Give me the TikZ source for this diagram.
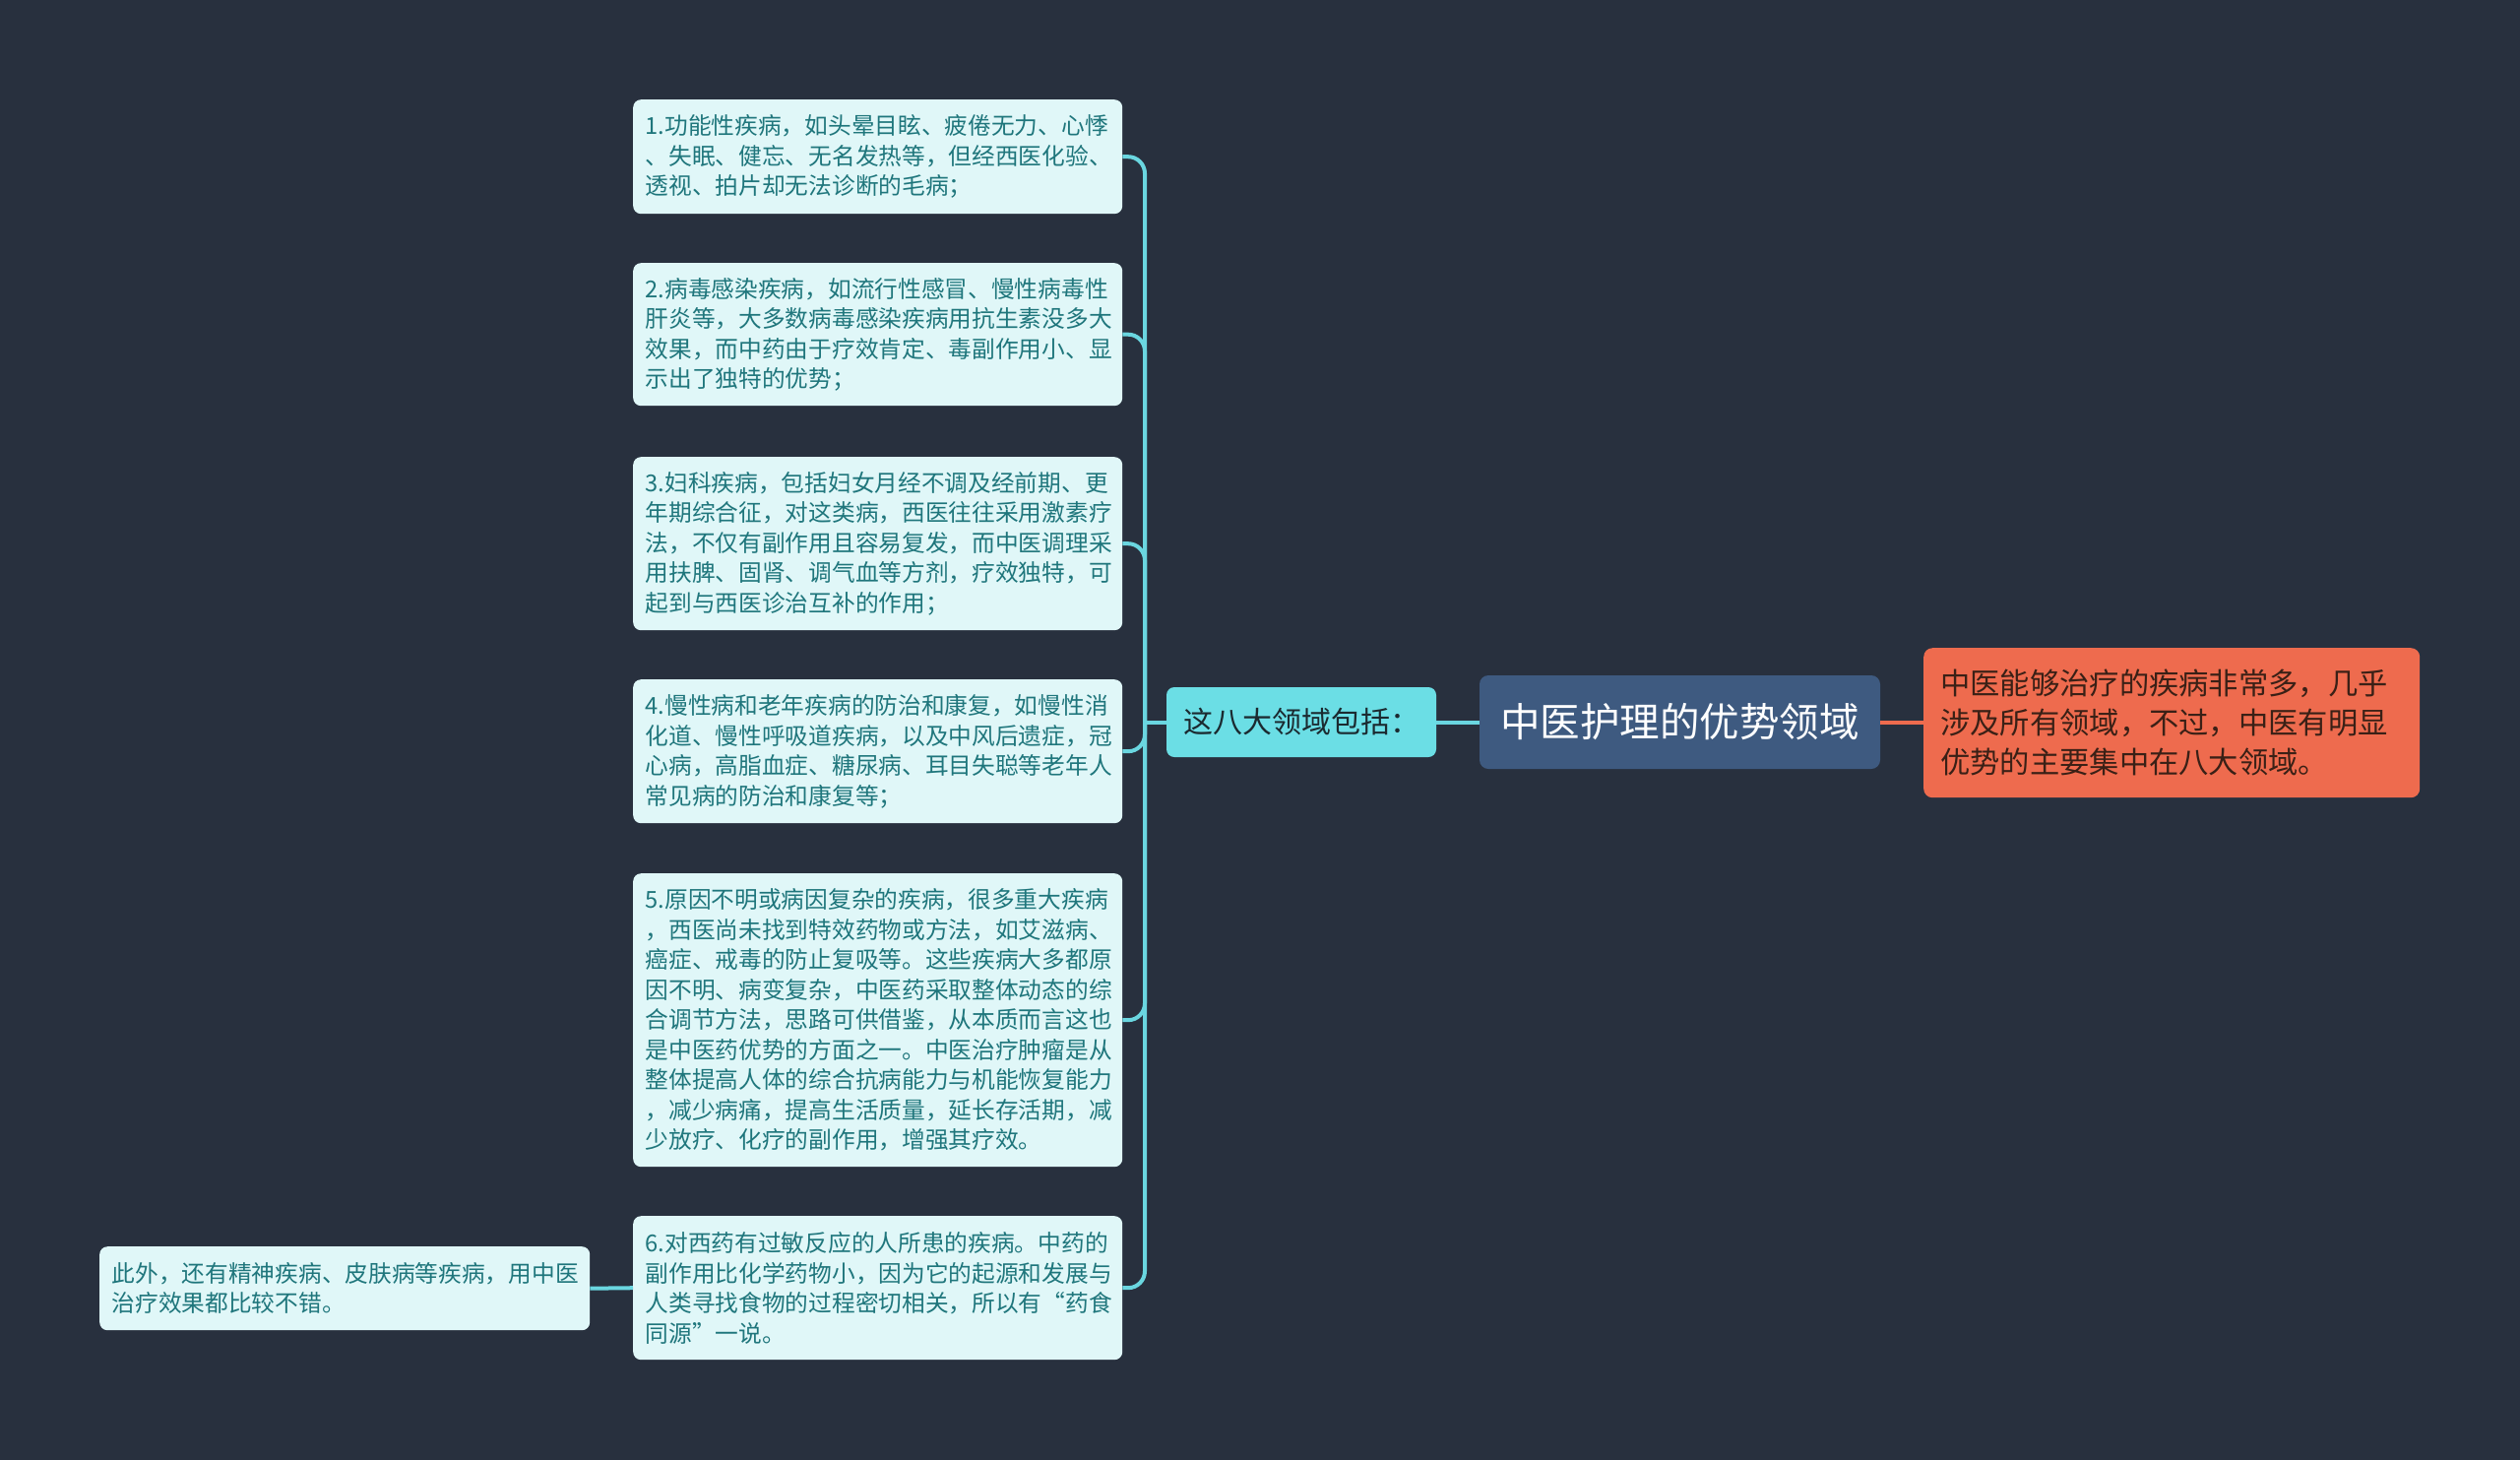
\documentclass[tikz,border=0pt]{standalone}
\usepackage{fontspec}
\newfontfamily\cjk{Noto Sans CJK SC}
\definecolor{bg}{HTML}{28303E}
\definecolor{boxfill}{HTML}{E0F7F8}
\definecolor{boxtext}{HTML}{1F767C}
\definecolor{cyanline}{HTML}{6AD6E0}
\definecolor{lblfill}{HTML}{6BDEE5}
\definecolor{lbltext}{HTML}{1B2A30}
\definecolor{centfill}{HTML}{3E5A80}
\definecolor{orfill}{HTML}{EE6B4E}
\definecolor{ortext}{HTML}{3A2016}
\begin{document}
\begin{tikzpicture}[x=1pt,y=-1pt,
  tbox/.style={fill=boxfill, rounded corners=8pt, text=boxtext,
    font=\cjk\fontsize{23.7}{30.5}\selectfont, align=left,
    text width=472pt, inner xsep=12.5pt, inner ysep=0pt, anchor=north west},
  lbl/.style={fill=lblfill, rounded corners=8pt, text=lbltext,
    font=\cjk\fontsize{30}{36}\selectfont, minimum width=274pt, minimum height=71pt, inner sep=0pt},
  cent/.style={fill=centfill, rounded corners=9pt, text=white,
    font=\cjk\fontsize{40.5}{48}\selectfont, minimum width=407pt, minimum height=95pt, inner sep=0pt},
  obox/.style={fill=orfill, rounded corners=9pt, text=ortext,
    font=\cjk\fontsize{30.3}{40}\selectfont, align=left, text width=470pt,
    inner xsep=17pt, inner ysep=0pt, minimum height=152pt, anchor=north west},
  cline/.style={draw=cyanline, line width=4pt},
  oline/.style={draw=orfill, line width=4pt}
]
\fill[bg] (0,0) rectangle (2560,1483);
\useasboundingbox (0,0) rectangle (2560,1483);

\node[cent] (c) at (1706.5,733.5) {中医护理的优势领域};
\node[obox] (r) at (1954,658) {中医能够治疗的疾病非常多，几乎\\涉及所有领域，不过，中医有明显\\优势的主要集中在八大领域。};
\node[lbl] (l) at (1322,733.5) {这八大领域包括：};

\node[tbox, minimum height=116pt] (b1) at (643,101) {1.功能性疾病，如头晕目眩、疲倦无力、心悸\\、失眠、健忘、无名发热等，但经西医化验、\\透视、拍片却无法诊断的毛病；};
\node[tbox, minimum height=145pt] (b2) at (643,267) {2.病毒感染疾病，如流行性感冒、慢性病毒性\\肝炎等，大多数病毒感染疾病用抗生素没多大\\效果，而中药由于疗效肯定、毒副作用小、显\\示出了独特的优势；};
\node[tbox, minimum height=176pt] (b3) at (643,464) {3.妇科疾病，包括妇女月经不调及经前期、更\\年期综合征，对这类病，西医往往采用激素疗\\法，不仅有副作用且容易复发，而中医调理采\\用扶脾、固肾、调气血等方剂，疗效独特，可\\起到与西医诊治互补的作用；};
\node[tbox, minimum height=146pt] (b4) at (643,690) {4.慢性病和老年疾病的防治和康复，如慢性消\\化道、慢性呼吸道疾病，以及中风后遗症，冠\\心病，高脂血症、糖尿病、耳目失聪等老年人\\常见病的防治和康复等；};
\node[tbox, minimum height=298pt] (b5) at (643,887) {5.原因不明或病因复杂的疾病，很多重大疾病\\，西医尚未找到特效药物或方法，如艾滋病、\\癌症、戒毒的防止复吸等。这些疾病大多都原\\因不明、病变复杂，中医药采取整体动态的综\\合调节方法，思路可供借鉴，从本质而言这也\\是中医药优势的方面之一。中医治疗肿瘤是从\\整体提高人体的综合抗病能力与机能恢复能力\\，减少病痛，提高生活质量，延长存活期，减\\少放疗、化疗的副作用，增强其疗效。};
\node[tbox, minimum height=146pt] (b6) at (643,1235) {6.对西药有过敏反应的人所患的疾病。中药的\\副作用比化学药物小，因为它的起源和发展与\\人类寻找食物的过程密切相关，所以有“药食\\同源”一说。};
\node[tbox, text width=473pt, minimum height=85pt] (b7) at (101,1266) {此外，还有精神疾病、皮肤病等疾病，用中医\\治疗效果都比较不错。};

\coordinate (j) at (1163,733.5);
\draw[oline] (c.east) -- (r.west |- c.east);
\draw[cline] (l.east) -- (c.west);
\draw[cline] (l.west) -- (j);
\foreach \b in {b1,b2,b3,b4,b5,b6}{
  \draw[cline, rounded corners=17pt] (j) |- (\b.east);
}
\draw[cline] (b6.west) -- (b7.east);
\end{tikzpicture}
\end{document}
